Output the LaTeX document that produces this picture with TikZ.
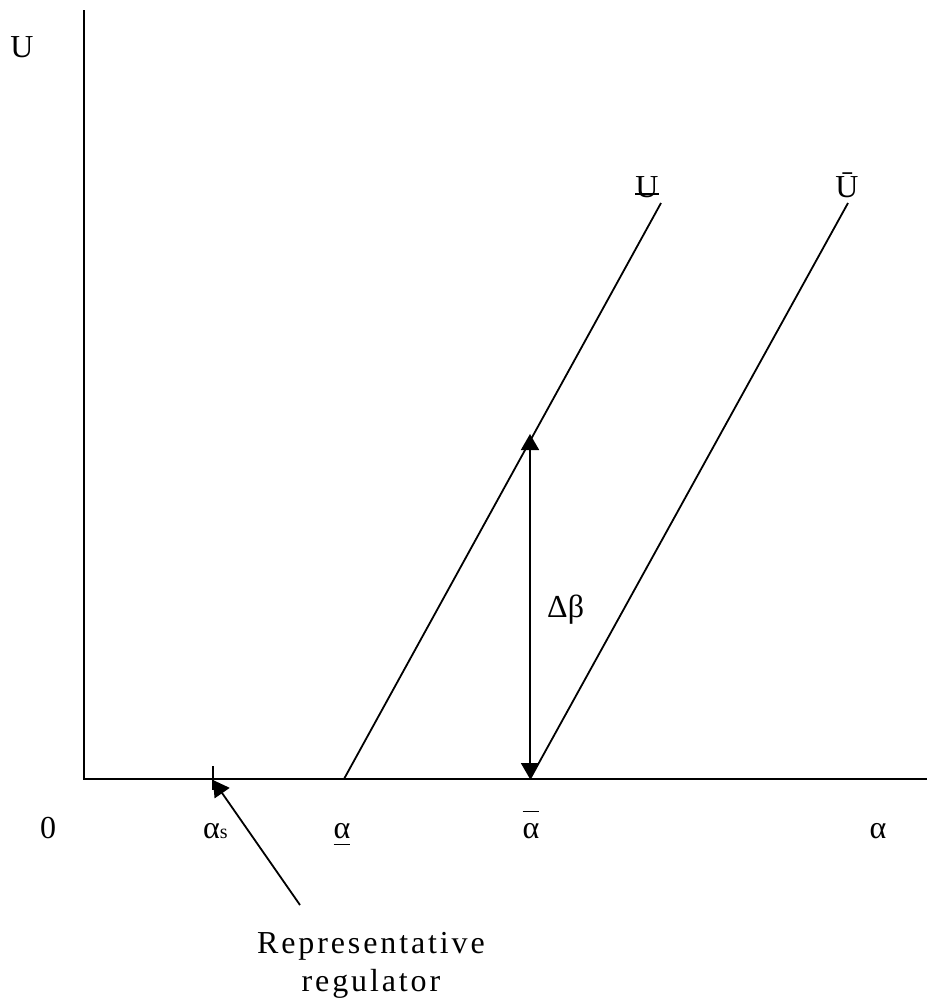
\documentclass[tikz,border=0pt]{standalone}
\usepackage{fontspec}
\setmainfont{Liberation Serif}
\newfontfamily\spacedfont[LetterSpace=9]{Liberation Serif}
\usetikzlibrary{arrows.meta}
\newcommand{\ulU}{{\setbox0\hbox{U}\rlap{\rule[2.5pt]{\wd0}{1.3pt}}U}}
\newcommand{\ulalpha}{{\setbox0\hbox{α}\rlap{\rule[-7pt]{\wd0}{1.3pt}}α}}
\newcommand{\olalpha}{{\setbox0\hbox{α}\rlap{\rule[26pt]{\wd0}{1.3pt}}α}}
\begin{document}
\begin{tikzpicture}[x=1pt,y=-1pt,
  lbl/.style={font=\fontsize{32}{38}\selectfont, inner sep=0pt, anchor=base},
  replbl/.style={font=\spacedfont\fontsize{32}{37}\selectfont, inner sep=0pt, anchor=base},
  ln/.style={line width=1.8pt},
  tri/.style={-{Triangle[width=18pt,length=16pt]}}]
\useasboundingbox (0,0) rectangle (927,1005);
% axes
\coordinate (ytop) at (84,10);
\coordinate (orig) at (84,779);
\coordinate (xend) at (927,779);
\draw[ln] (ytop) -- (orig) -- (xend);
% lines
\coordinate (la) at (344,779);
\coordinate (lb) at (661,203);
\coordinate (ua) at (530,779);
\coordinate (ub) at (848,203);
\draw[ln] (la) -- (lb);
\draw[ln] (ua) -- (ub);
% double arrow
\coordinate (dtop) at (530,434);
\draw[ln, {Triangle[width=18pt,length=16pt]}-{Triangle[width=18pt,length=16pt]}] (dtop) -- (ua);
% tick
\coordinate (tka) at (213,766);
\coordinate (tkb) at (213,790);
\draw[ln] (tka) -- (tkb);
% representative arrow
\coordinate (rfoot) at (300,905);
\coordinate (rtip) at (213,780);
\draw[ln, tri] (rfoot) -- (rtip);
% labels
\node[lbl] (U) at (22,57) {U};
\node[lbl] (Ulow) at (647,197) {\ulU};
\node[lbl] (Uhigh) at (847,197) {Ū};
\node[lbl, anchor=base west] (db) at (547,617) {Δβ};
\node[lbl] (zero) at (48,838) {0};
\node[lbl, anchor=base west] (as) at (203,838) {α{\fontsize{20}{20}\selectfont s}};
\node[lbl] (alow) at (342,838) {\ulalpha};
\node[lbl] (ahigh) at (531,838) {\olalpha};
\node[lbl] (aend) at (878,838) {α};
\node[replbl] (rep1) at (371,953) {Representative};
\node[replbl] (rep2) at (371,991) {regulator};
\end{tikzpicture}
\end{document}
